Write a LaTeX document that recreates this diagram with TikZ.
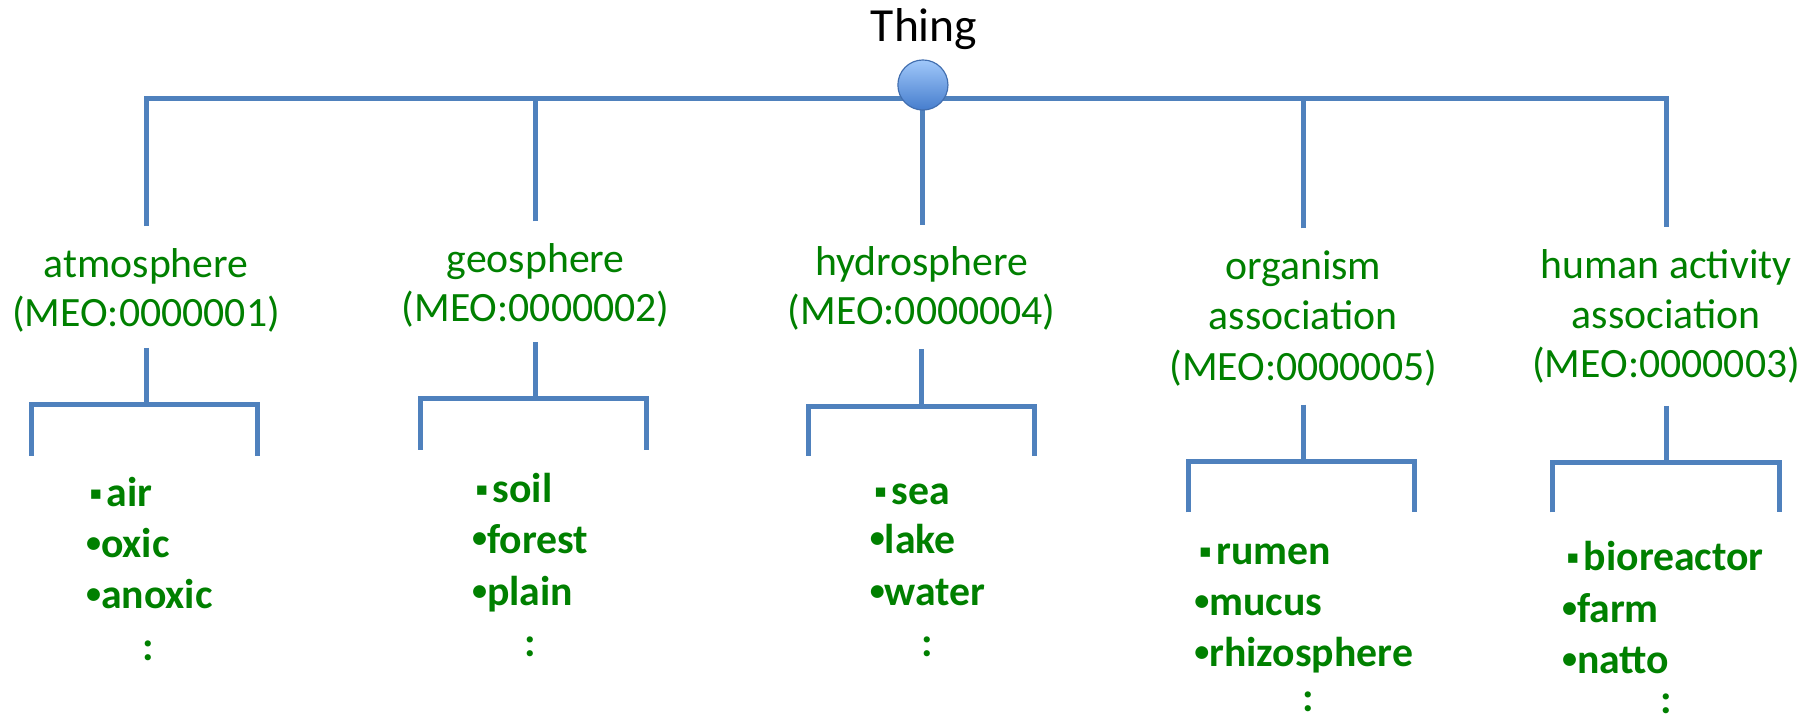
\documentclass[tikz,border=0pt]{standalone}
\usepackage{fontspec}
\setmainfont{Carlito}
\newfontfamily\dejavu{DejaVu Sans}
\definecolor{lineblue}{RGB}{79,129,189}
\definecolor{txtgreen}{RGB}{0,128,0}
\definecolor{ballTop}{RGB}{160,200,250}
\definecolor{ballBot}{RGB}{70,125,205}
\definecolor{ballEdge}{RGB}{65,110,175}
\newcommand{\sqbul}{{\dejavu\fontsize{16}{16}\selectfont\raisebox{6pt}{▪}}\hspace{4pt}}
\newcommand{\dotbul}{{\fontsize{26}{26}\selectfont\raisebox{4.5pt}{•}}}
\begin{document}
\begin{tikzpicture}[x=1pt,y=-1pt,
  conn/.style={draw=lineblue, line width=4.3pt, line join=miter},
  cat/.style={anchor=base, inner sep=0pt, text=txtgreen, font=\fontsize{36}{44}\selectfont},
  item/.style={anchor=base west, inner sep=0pt, text=txtgreen, font=\fontsize{36}{44}\selectfont\bfseries},
  more/.style={anchor=base, inner sep=0pt, text=txtgreen, font=\fontsize{36}{44}\selectfont\bfseries},
  ball/.style={circle, minimum size=43.2pt, inner sep=0pt, draw=ballEdge, line width=1pt, top color=ballTop, bottom color=ballBot}
]
\useasboundingbox (0,0) rectangle (1568,625);

% title
\node[anchor=base, inner sep=0pt, font=\fontsize{41}{41}\selectfont] (thing) at (797,36) {Thing};

% main bar coordinates
\coordinate (bar) at (796,85);
\coordinate (c1) at (126,195);
\coordinate (c2) at (462,191);
\coordinate (c3) at (796,194);
\coordinate (c4) at (1124,197);
\coordinate (c5) at (1437,196);
\draw[conn] (c1) |- (bar) -| (c5);
\draw[conn] (c2) -- (c2 |- bar);
\draw[conn] (c3) -- (bar);
\draw[conn] (c4) -- (c4 |- bar);
\node[ball] (root) at (796,73.3) {};

% category labels
\node[cat] (atm) at (126,239) {atmosphere};
\node[cat] (atmid) at (126,282) {(MEO:0000001)};
\node[cat] (geo) at (462,235) {geosphere};
\node[cat] (geoid) at (462,277) {(MEO:0000002)};
\node[cat] (hyd) at (795,238) {hydrosphere};
\node[cat] (hydid) at (795,280) {(MEO:0000004)};
\node[cat] (org) at (1124,241) {organism};
\node[cat] (orga) at (1124,284) {association};
\node[cat] (orgid) at (1124,328) {(MEO:0000005)};
\node[cat] (hum) at (1437,240) {human activity};
\node[cat] (huma) at (1437,283) {association};
\node[cat] (humid) at (1437,326) {(MEO:0000003)};

% sub brackets
\coordinate (s1) at (126,300); \coordinate (j1) at (126,349);
\coordinate (l1a) at (27,393); \coordinate (l1b) at (222,393);
\draw[conn] (s1) -- (j1); \draw[conn] (l1a) |- (j1) -| (l1b);

\coordinate (s2) at (462,295); \coordinate (j2) at (462,344);
\coordinate (l2a) at (363,388); \coordinate (l2b) at (558,388);
\draw[conn] (s2) -- (j2); \draw[conn] (l2a) |- (j2) -| (l2b);

\coordinate (s3) at (795,301); \coordinate (j3) at (795,351);
\coordinate (l3a) at (697,393); \coordinate (l3b) at (892,393);
\draw[conn] (s3) -- (j3); \draw[conn] (l3a) |- (j3) -| (l3b);

\coordinate (s4) at (1124,349); \coordinate (j4) at (1124,398);
\coordinate (l4a) at (1025,442); \coordinate (l4b) at (1220,442);
\draw[conn] (s4) -- (j4); \draw[conn] (l4a) |- (j4) -| (l4b);

\coordinate (s5) at (1437,350); \coordinate (j5) at (1437,399);
\coordinate (l5a) at (1339,442); \coordinate (l5b) at (1535,442);
\draw[conn] (s5) -- (j5); \draw[conn] (l5a) |- (j5) -| (l5b);

% item lists
\node[item] (air) at (77,437) {\sqbul air};
\node[item] (oxic) at (74,481) {\dotbul oxic};
\node[item] (anoxic) at (74,525) {\dotbul anoxic};
\node[more] (m1) at (128,570) {:};

\node[item] (soil) at (410,433) {\sqbul soil};
\node[item] (forest) at (407,477) {\dotbul forest};
\node[item] (plain) at (407,522) {\dotbul plain};
\node[more] (m2) at (457,566) {:};

\node[item] (sea) at (754,435) {\sqbul sea};
\node[item] (lake) at (750,477) {\dotbul lake};
\node[item] (water) at (750,522) {\dotbul water};
\node[more] (m3) at (800,566) {:};

\node[item] (rumen) at (1034,487) {\sqbul rumen};
\node[item] (mucus) at (1030,531) {\dotbul mucus};
\node[item] (rhizo) at (1030,575) {\dotbul rhizosphere};
\node[more] (m4) at (1128,614) {:};

\node[item] (bior) at (1351,492) {\sqbul bioreactor};
\node[item] (farm) at (1347,537) {\dotbul farm};
\node[item] (natto) at (1347,581) {\dotbul natto};
\node[more] (m5) at (1437,615) {:};
\end{tikzpicture}
\end{document}
